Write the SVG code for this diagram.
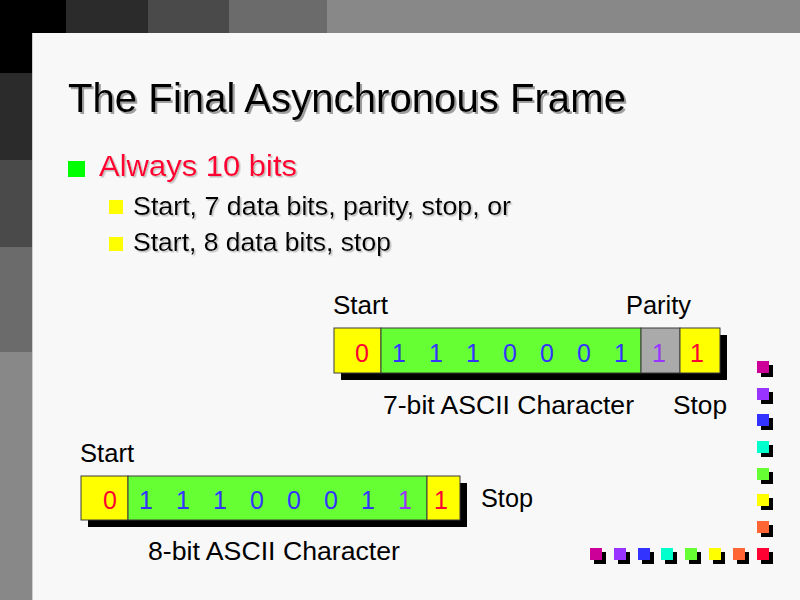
<svg xmlns="http://www.w3.org/2000/svg" width="800" height="600" viewBox="0 0 800 600">
<defs>
<filter id="ts" x="-5%" y="-20%" width="110%" height="140%">
<feDropShadow dx="2" dy="2" stdDeviation="0.4" flood-color="#888" flood-opacity="0.8"/>
</filter>
<filter id="ts1" x="-5%" y="-20%" width="110%" height="140%">
<feDropShadow dx="1.5" dy="1.5" stdDeviation="0.4" flood-color="#aaa" flood-opacity="0.7"/>
</filter>
<style>
text{font-family:"Liberation Sans",Arial,sans-serif}
.title{font-size:40px;fill:#000;filter:url(#ts)}
.l1{font-size:30px;fill:#ff0033;filter:url(#ts1)}
.l2{font-size:25px;fill:#000;filter:url(#ts1)}
.lbl{font-size:25px;fill:#000}
.dig{font-size:25px;text-anchor:middle}
.b{fill:#3333ff}.r{fill:#ff0033}.p{fill:#9933ff}
.cell{stroke:#3a3a3a;stroke-width:1}
.y{fill:#ffff00}.g{fill:#66ff33}.gr{fill:#aaaaaa}
.shadow{fill:#000}
</style>
</defs>
<rect x="0" y="0" width="800" height="600" fill="#f8f8f8"/>
<g id="top-bar">
<rect x="0" y="0" width="66" height="33" fill="#000"/>
<rect x="66" y="0" width="82" height="33" fill="#2b2b2b"/>
<rect x="148" y="0" width="81" height="33" fill="#4a4a4a"/>
<rect x="229" y="0" width="98" height="33" fill="#6b6b6b"/>
<rect x="327" y="0" width="473" height="33" fill="#888"/>
</g>
<g id="left-bar">
<rect x="0" y="33" width="32" height="40" fill="#000"/>
<rect x="0" y="73" width="32" height="87" fill="#2b2b2b"/>
<rect x="0" y="160" width="32" height="87" fill="#4a4a4a"/>
<rect x="0" y="247" width="32" height="105" fill="#6b6b6b"/>
<rect x="0" y="352" width="32" height="248" fill="#888"/>
<rect x="32" y="33" width="1" height="567" fill="#ccc"/>
</g>
<g id="title">
<text class="title" x="68" y="112" textLength="558" lengthAdjust="spacingAndGlyphs">The Final Asynchronous Frame</text>
</g>
<g id="bullets">
<rect x="68" y="161" width="17" height="16" fill="#00ff00"/>
<text class="l1" x="99" y="176" textLength="198" lengthAdjust="spacingAndGlyphs">Always 10 bits</text>
<rect x="109" y="200" width="14" height="14" fill="#ffff00"/>
<text class="l2" x="133" y="215" textLength="378" lengthAdjust="spacingAndGlyphs">Start, 7 data bits, parity, stop, or</text>
<rect x="109" y="237" width="14" height="14" fill="#ffff00"/>
<text class="l2" x="133" y="251" textLength="258" lengthAdjust="spacingAndGlyphs">Start, 8 data bits, stop</text>
</g>
<g id="frame-7bit">
<rect class="shadow" x="341" y="335" width="386" height="45"/>
<rect class="cell y" x="334" y="328" width="47" height="45"/>
<rect class="cell g" x="381" y="328" width="260" height="45"/>
<rect class="cell gr" x="641" y="328" width="39" height="45"/>
<rect class="cell y" x="680" y="328" width="40" height="45"/>
<text class="dig r" x="362" y="362">0</text>
<text class="dig b" x="399" y="362">1</text>
<text class="dig b" x="436" y="362">1</text>
<text class="dig b" x="473" y="362">1</text>
<text class="dig b" x="510" y="362">0</text>
<text class="dig b" x="547" y="362">0</text>
<text class="dig b" x="584" y="362">0</text>
<text class="dig b" x="621" y="362">1</text>
<text class="dig p" x="659" y="362">1</text>
<text class="dig r" x="697" y="362">1</text>
<text class="lbl" x="333" y="314" textLength="55" lengthAdjust="spacingAndGlyphs">Start</text>
<text class="lbl" x="626" y="314" textLength="65" lengthAdjust="spacingAndGlyphs">Parity</text>
<text class="lbl" x="383" y="414" textLength="251" lengthAdjust="spacingAndGlyphs">7-bit ASCII Character</text>
<text class="lbl" x="673" y="414" textLength="54" lengthAdjust="spacingAndGlyphs">Stop</text>
</g>
<g id="frame-8bit">
<rect class="shadow" x="88" y="483" width="379" height="44"/>
<rect class="cell y" x="81" y="476" width="47" height="44"/>
<rect class="cell g" x="128" y="476" width="299" height="44"/>
<rect class="cell y" x="427" y="476" width="33" height="44"/>
<text class="dig r" x="110" y="509">0</text>
<text class="dig b" x="146" y="509">1</text>
<text class="dig b" x="183" y="509">1</text>
<text class="dig b" x="220" y="509">1</text>
<text class="dig b" x="257" y="509">0</text>
<text class="dig b" x="294" y="509">0</text>
<text class="dig b" x="331" y="509">0</text>
<text class="dig b" x="368" y="509">1</text>
<text class="dig p" x="405" y="509">1</text>
<text class="dig r" x="441" y="509">1</text>
<text class="lbl" x="80" y="462" textLength="54" lengthAdjust="spacingAndGlyphs">Start</text>
<text class="lbl" x="481" y="507" textLength="52" lengthAdjust="spacingAndGlyphs">Stop</text>
<text class="lbl" x="148" y="560" textLength="252" lengthAdjust="spacingAndGlyphs">8-bit ASCII Character</text>
</g>
<g id="corner-dots">
<g fill="#000">
<rect x="761" y="365" width="12" height="12"/><rect x="761" y="392" width="12" height="12"/><rect x="761" y="418" width="12" height="12"/><rect x="761" y="445" width="12" height="12"/><rect x="761" y="472" width="12" height="12"/><rect x="761" y="498" width="12" height="12"/><rect x="761" y="525" width="12" height="12"/><rect x="761" y="552" width="12" height="12"/>
<rect x="594" y="552" width="12" height="12"/><rect x="618" y="552" width="12" height="12"/><rect x="642" y="552" width="12" height="12"/><rect x="665" y="552" width="12" height="12"/><rect x="689" y="552" width="12" height="12"/><rect x="713" y="552" width="12" height="12"/><rect x="737" y="552" width="12" height="12"/>
</g>
<rect x="757" y="361" width="12" height="12" fill="#cc0099"/>
<rect x="757" y="388" width="12" height="12" fill="#9933ff"/>
<rect x="757" y="414" width="12" height="12" fill="#3333ff"/>
<rect x="757" y="441" width="12" height="12" fill="#00ffcc"/>
<rect x="757" y="468" width="12" height="12" fill="#66ff33"/>
<rect x="757" y="494" width="12" height="12" fill="#ffff00"/>
<rect x="757" y="521" width="12" height="12" fill="#ff6633"/>
<rect x="757" y="548" width="12" height="12" fill="#ff0033"/>
<rect x="590" y="548" width="12" height="12" fill="#cc0099"/>
<rect x="614" y="548" width="12" height="12" fill="#9933ff"/>
<rect x="638" y="548" width="12" height="12" fill="#3333ff"/>
<rect x="661" y="548" width="12" height="12" fill="#00ffcc"/>
<rect x="685" y="548" width="12" height="12" fill="#66ff33"/>
<rect x="709" y="548" width="12" height="12" fill="#ffff00"/>
<rect x="733" y="548" width="12" height="12" fill="#ff6633"/>
</g>
</svg>
